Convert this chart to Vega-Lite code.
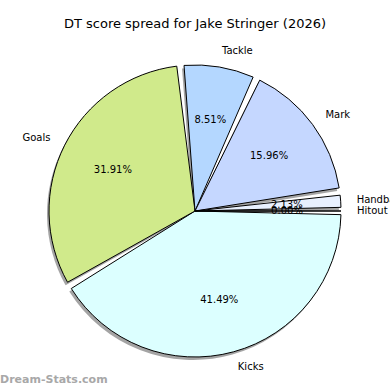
{
  "$schema": "https://vega.github.io/schema/vega-lite/v6.json",
  "autosize": {"type": "none"},
  "width": 390,
  "height": 340,
  "padding": {"top": 41, "bottom": 9, "left": 0, "right": 0},
  "background": "white",
  "config": {"view": {"stroke": null}, "font": "DejaVu Sans"},
  "title": {"text": "DT score spread for Jake Stringer (2026)", "fontSize": 13, "fontWeight": "normal", "font": "DejaVu Sans", "color": "black", "offset": 10},
  "data": {"values": [
    {"i": 1, "stat": "Kicks", "score": 39, "pct": "41.49%"},
    {"i": 2, "stat": "Goals", "score": 30, "pct": "31.91%"},
    {"i": 3, "stat": "Tackle", "score": 8, "pct": "8.51%"},
    {"i": 4, "stat": "Mark", "score": 15, "pct": "15.96%"},
    {"i": 5, "stat": "Handball", "score": 2, "pct": "2.13%"},
    {"i": 6, "stat": "Hitout", "score": 0, "pct": "0.00%"}
  ]},
  "encoding": {
    "theta": {"field": "score", "type": "quantitative", "stack": true, "scale": {"range": [1.5707963, 7.8539816]}},
    "order": {"field": "i", "type": "quantitative"}
  },
  "layer": [
    {
      "mark": {"type": "arc", "outerRadius": 146, "padAngle": 0.05, "fill": "#4a4a4a", "fillOpacity": 0.5, "xOffset": -2, "yOffset": 3, "stroke": null}
    },
    {
      "mark": {"type": "arc", "outerRadius": 146, "padAngle": 0.05, "stroke": "black", "strokeWidth": 1},
      "encoding": {
        "color": {"field": "stat", "type": "nominal", "legend": null,
          "scale": {"domain": ["Kicks", "Goals", "Tackle", "Mark", "Handball", "Hitout"],
                    "range": ["#dcffff", "#d0ea8b", "#b4d7ff", "#c5d7ff", "#e8f0fe", "#f0e0ff"]}}
      }
    },
    {
      "mark": {"type": "text", "radius": 92, "fontSize": 10, "font": "DejaVu Sans", "color": "black", "align": "center", "baseline": "middle"},
      "encoding": {"text": {"field": "pct"}}
    },
    {
      "mark": {"type": "text", "radius": 162, "fontSize": 10, "font": "DejaVu Sans", "color": "black", "align": "left", "baseline": "middle"},
      "encoding": {"text": {"condition": {"test": "datum.stat != 'Goals'", "field": "stat"}, "value": ""}}
    },
    {
      "mark": {"type": "text", "radius": 162, "fontSize": 10, "font": "DejaVu Sans", "color": "black", "align": "right", "baseline": "middle"},
      "encoding": {"text": {"condition": {"test": "datum.stat == 'Goals'", "field": "stat"}, "value": ""}}
    },
    {
      "data": {"values": [{"label": "Dream-Stats.com"}]},
      "mark": {"type": "text", "fontSize": 11, "font": "DejaVu Sans", "fontWeight": "bold", "color": "#a8a8a8", "align": "left", "baseline": "middle", "dy": -1},
      "encoding": {
        "theta": null,
        "order": null,
        "x": {"datum": 0, "type": "quantitative", "scale": {"domain": [0, 1]}, "axis": null},
        "y": {"datum": 0, "type": "quantitative", "scale": {"domain": [0, 1]}, "axis": null},
        "text": {"field": "label"}
      }
    }
  ]
}
